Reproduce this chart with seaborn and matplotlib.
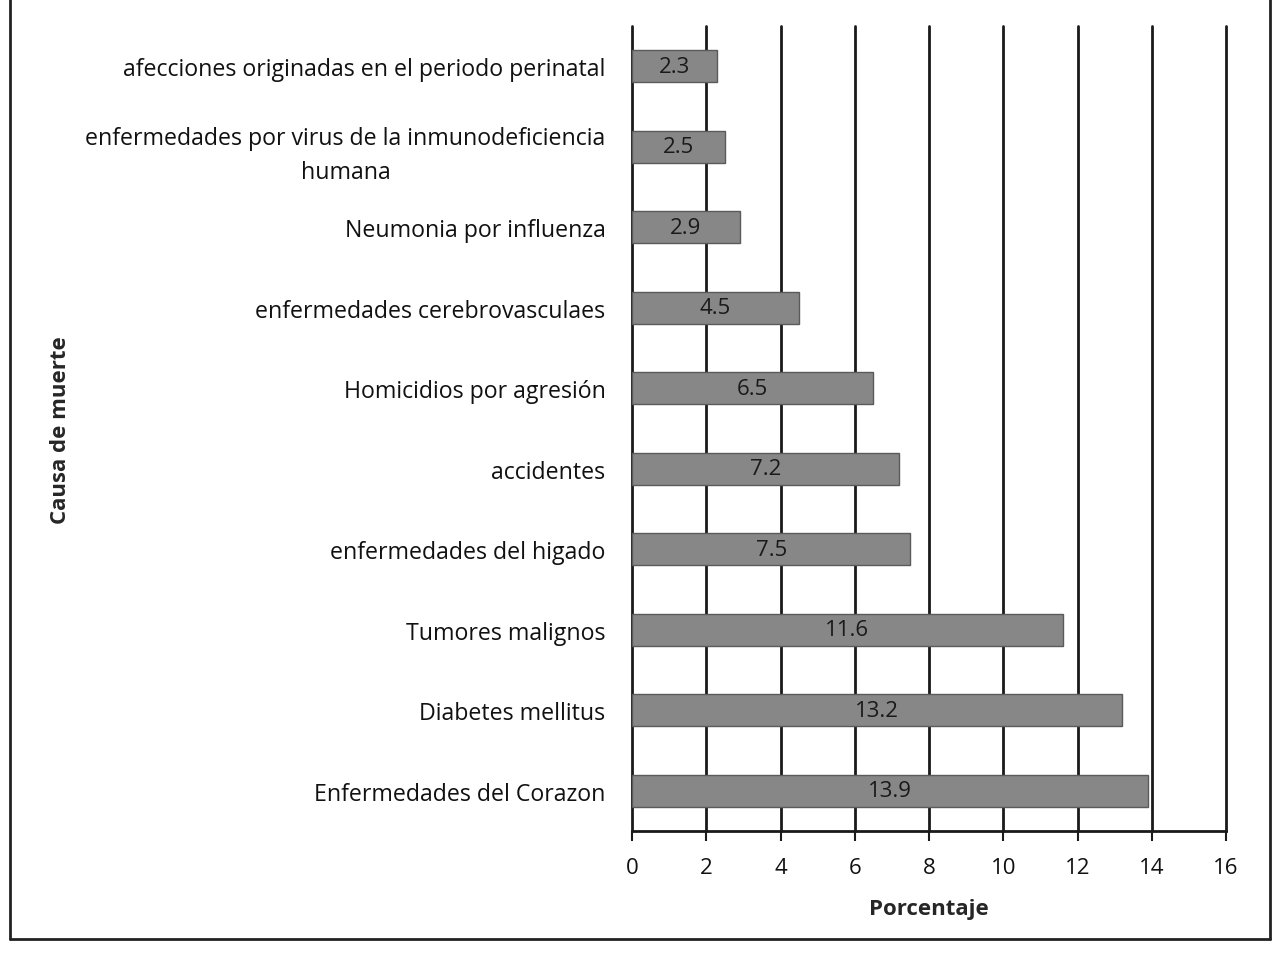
import seaborn as sns
import matplotlib.pyplot as plt
import pandas as pd
from matplotlib.lines import Line2D

# causas de muerte, de arriba hacia abajo
causas = [
    "afecciones originadas en el periodo perinatal",
    "enfermedades por virus de la inmunodeficiencia\nhumana",
    "Neumonia por influenza",
    "enfermedades cerebrovasculaes",
    "Homicidios por agresión",
    "accidentes",
    "enfermedades del higado",
    "Tumores malignos",
    "Diabetes mellitus",
    "Enfermedades del Corazon",
]
porcentaje = [2.3, 2.5, 2.9, 4.5, 6.5, 7.2, 7.5, 11.6, 13.2, 13.9]
xticks = [0, 2, 4, 6, 8, 10, 12, 14, 16]

df = pd.DataFrame({"causa": causas, "pct": porcentaje})

sns.set_theme(style="white")
plt.rcParams["font.family"] = ["Open Sans", "DejaVu Sans"]

fig = plt.figure(figsize=(12.73, 9.54), dpi=100)
ax = fig.add_axes([632 / 1273, 1 - 832 / 954, (1226 - 632) / 1273, (832 - 27) / 954])

sns.barplot(data=df, x="pct", y="causa", orient="h", color="#878787",
            saturation=1, width=0.4, edgecolor="#5a5a5a", linewidth=1,
            ax=ax, zorder=3)

ax.bar_label(ax.containers[0], labels=[str(v) for v in porcentaje],
             label_type="center", fontsize=16, color="#1a1a1a", zorder=4)

ax.set_xlim(0, 16)
ax.set_ylim(9.5, -0.5)
ax.set_xticks(xticks)
ax.set_xticklabels([str(t) for t in xticks])
for t in xticks:
    ax.axvline(t, color="#1a1a1a", lw=2, zorder=1, clip_on=False)

for s in ["top", "right", "left"]:
    ax.spines[s].set_visible(False)
ax.spines["bottom"].set_color("#1a1a1a")
ax.spines["bottom"].set_linewidth(2)

ax.tick_params(axis="x", bottom=True, length=7, width=1.5, color="#1a1a1a",
               labelsize=16, pad=12, labelcolor="#111111")
ax.tick_params(axis="y", left=False, length=0, labelsize=16.7, pad=19,
               labelcolor="#111111")
for lab in ax.get_yticklabels():
    lab.set_multialignment("center")
    lab.set_linespacing(1.55)

ax.set_xlabel("Porcentaje", fontsize=16, fontweight="bold", labelpad=14)
ax.set_ylabel("")
fig.text(60 / 1273, 1 - 430 / 954, "Causa de muerte", rotation=90,
         fontsize=16, fontweight="bold", ha="center", va="center")

# marco exterior de la hoja escaneada
fig.add_artist(Line2D([10 / 1273, 10 / 1273], [1.0, 1 - 940 / 954],
                      transform=fig.transFigure, color="#222222", lw=2))
fig.add_artist(Line2D([10 / 1273, 1270 / 1273], [1 - 940 / 954, 1 - 940 / 954],
                      transform=fig.transFigure, color="#222222", lw=2))
fig.add_artist(Line2D([1270 / 1273, 1270 / 1273], [1.0, 1 - 940 / 954],
                      transform=fig.transFigure, color="#222222", lw=2))

fig.savefig("out.png", dpi=100)
